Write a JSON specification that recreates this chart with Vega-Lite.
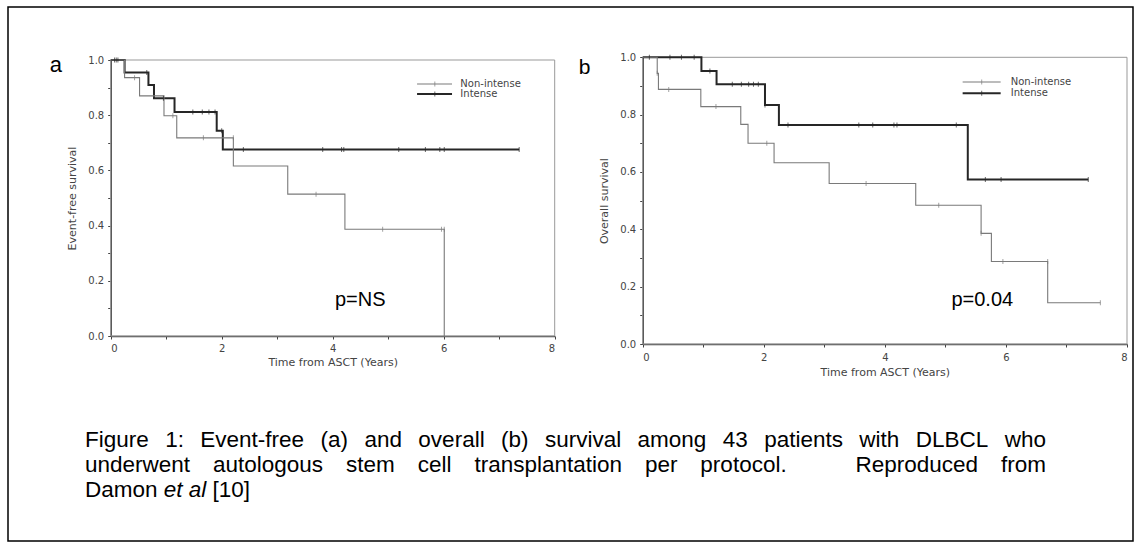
{
  "$schema": "https://vega.github.io/schema/vega-lite/v6.json",
  "width": 1125,
  "height": 534,
  "autosize": {"type": "none"},
  "padding": {"left": 8, "top": 7, "right": 9, "bottom": 7},
  "background": "white",
  "config": {
    "view": {"stroke": "#000", "strokeWidth": 1.5},
    "axis": {
      "grid": false,
      "domainColor": "#444",
      "domainWidth": 1.5,
      "tickColor": "#444",
      "tickSize": 3,
      "labelFont": "DejaVu Sans",
      "labelFontSize": 10,
      "labelColor": "#444",
      "titleFont": "DejaVu Sans",
      "titleFontSize": 11,
      "titleFontWeight": "normal",
      "titleColor": "#444"
    }
  },
  "datasets": {
    "a_curve": [
      {"t": 0, "s": 1, "group": "Intense"},
      {"t": 0.25, "s": 0.955, "group": "Intense"},
      {"t": 0.68, "s": 0.909, "group": "Intense"},
      {"t": 0.78, "s": 0.861, "group": "Intense"},
      {"t": 1.15, "s": 0.812, "group": "Intense"},
      {"t": 1.91, "s": 0.744, "group": "Intense"},
      {"t": 2.02, "s": 0.676, "group": "Intense"},
      {"t": 7.36, "s": 0.676, "group": "Intense"},
      {"t": 0, "s": 1, "group": "Non-intense"},
      {"t": 0.25, "s": 0.936, "group": "Non-intense"},
      {"t": 0.52, "s": 0.87, "group": "Non-intense"},
      {"t": 0.96, "s": 0.798, "group": "Non-intense"},
      {"t": 1.19, "s": 0.718, "group": "Non-intense"},
      {"t": 2.21, "s": 0.616, "group": "Non-intense"},
      {"t": 3.19, "s": 0.514, "group": "Non-intense"},
      {"t": 4.22, "s": 0.387, "group": "Non-intense"},
      {"t": 6.01, "s": 0, "group": "Non-intense"}
    ],
    "a_cens": [
      {"t": 0.07, "s": 1, "group": "Intense"},
      {"t": 0.1, "s": 1, "group": "Intense"},
      {"t": 0.13, "s": 1, "group": "Intense"},
      {"t": 0.65, "s": 0.955, "group": "Intense"},
      {"t": 0.95, "s": 0.861, "group": "Intense"},
      {"t": 1.48, "s": 0.812, "group": "Intense"},
      {"t": 1.65, "s": 0.812, "group": "Intense"},
      {"t": 1.77, "s": 0.812, "group": "Intense"},
      {"t": 1.88, "s": 0.812, "group": "Intense"},
      {"t": 2.0, "s": 0.744, "group": "Intense"},
      {"t": 2.39, "s": 0.676, "group": "Intense"},
      {"t": 3.82, "s": 0.676, "group": "Intense"},
      {"t": 4.16, "s": 0.676, "group": "Intense"},
      {"t": 4.2, "s": 0.676, "group": "Intense"},
      {"t": 5.19, "s": 0.676, "group": "Intense"},
      {"t": 5.67, "s": 0.676, "group": "Intense"},
      {"t": 5.93, "s": 0.676, "group": "Intense"},
      {"t": 6.01, "s": 0.676, "group": "Intense"},
      {"t": 7.36, "s": 0.676, "group": "Intense"},
      {"t": 0.43, "s": 0.936, "group": "Non-intense"},
      {"t": 1.12, "s": 0.798, "group": "Non-intense"},
      {"t": 1.67, "s": 0.718, "group": "Non-intense"},
      {"t": 2.21, "s": 0.718, "group": "Non-intense"},
      {"t": 3.7, "s": 0.514, "group": "Non-intense"},
      {"t": 4.9, "s": 0.387, "group": "Non-intense"},
      {"t": 5.96, "s": 0.387, "group": "Non-intense"},
      {"t": 6.01, "s": 0.387, "group": "Non-intense"}
    ],
    "b_curve": [
      {"t": 0, "s": 1, "group": "Intense"},
      {"t": 0.97, "s": 0.952, "group": "Intense"},
      {"t": 1.22, "s": 0.906, "group": "Intense"},
      {"t": 2.02, "s": 0.834, "group": "Intense"},
      {"t": 2.25, "s": 0.764, "group": "Intense"},
      {"t": 5.37, "s": 0.574, "group": "Intense"},
      {"t": 7.36, "s": 0.574, "group": "Intense"},
      {"t": 0, "s": 1, "group": "Non-intense"},
      {"t": 0.24, "s": 0.944, "group": "Non-intense"},
      {"t": 0.26, "s": 0.888, "group": "Non-intense"},
      {"t": 0.96, "s": 0.828, "group": "Non-intense"},
      {"t": 1.62, "s": 0.766, "group": "Non-intense"},
      {"t": 1.74, "s": 0.7, "group": "Non-intense"},
      {"t": 2.17, "s": 0.632, "group": "Non-intense"},
      {"t": 3.08, "s": 0.56, "group": "Non-intense"},
      {"t": 4.51, "s": 0.484, "group": "Non-intense"},
      {"t": 5.59, "s": 0.386, "group": "Non-intense"},
      {"t": 5.76, "s": 0.288, "group": "Non-intense"},
      {"t": 6.69, "s": 0.144, "group": "Non-intense"},
      {"t": 7.56, "s": 0.144, "group": "Non-intense"}
    ],
    "b_cens": [
      {"t": 0.11, "s": 1, "group": "Intense"},
      {"t": 0.45, "s": 1, "group": "Intense"},
      {"t": 0.64, "s": 1, "group": "Intense"},
      {"t": 0.85, "s": 1, "group": "Intense"},
      {"t": 1.11, "s": 0.952, "group": "Intense"},
      {"t": 1.48, "s": 0.906, "group": "Intense"},
      {"t": 1.63, "s": 0.906, "group": "Intense"},
      {"t": 1.75, "s": 0.906, "group": "Intense"},
      {"t": 1.83, "s": 0.906, "group": "Intense"},
      {"t": 1.91, "s": 0.906, "group": "Intense"},
      {"t": 2.02, "s": 0.834, "group": "Intense"},
      {"t": 2.4, "s": 0.764, "group": "Intense"},
      {"t": 3.57, "s": 0.764, "group": "Intense"},
      {"t": 3.8, "s": 0.764, "group": "Intense"},
      {"t": 4.15, "s": 0.764, "group": "Intense"},
      {"t": 4.2, "s": 0.764, "group": "Intense"},
      {"t": 5.18, "s": 0.764, "group": "Intense"},
      {"t": 5.66, "s": 0.574, "group": "Intense"},
      {"t": 5.92, "s": 0.574, "group": "Intense"},
      {"t": 7.36, "s": 0.574, "group": "Intense"},
      {"t": 0.24, "s": 0.944, "group": "Non-intense"},
      {"t": 0.43, "s": 0.888, "group": "Non-intense"},
      {"t": 1.21, "s": 0.828, "group": "Non-intense"},
      {"t": 2.05, "s": 0.7, "group": "Non-intense"},
      {"t": 3.69, "s": 0.56, "group": "Non-intense"},
      {"t": 4.89, "s": 0.484, "group": "Non-intense"},
      {"t": 5.59, "s": 0.386, "group": "Non-intense"},
      {"t": 5.95, "s": 0.288, "group": "Non-intense"},
      {"t": 6.69, "s": 0.288, "group": "Non-intense"},
      {"t": 7.56, "s": 0.144, "group": "Non-intense"}
    ],
    "frame": [{"t": 0, "t2": 8, "s": 0, "s2": 1}],
    "a_legend": [
      {"t": 5.52, "t2": 6.15, "tm": 5.84, "tx": 6.3, "s": 0.913, "group": "Non-intense"},
      {"t": 5.52, "t2": 6.15, "tm": 5.84, "tx": 6.3, "s": 0.877, "group": "Intense"}
    ],
    "b_legend": [
      {"t": 5.285, "t2": 5.913, "tm": 5.6, "tx": 6.08, "s": 0.914, "group": "Non-intense"},
      {"t": 5.285, "t2": 5.913, "tm": 5.6, "tx": 6.08, "s": 0.875, "group": "Intense"}
    ],
    "a_letter": [{"t": -0.986, "s": 0.957, "text": "a"}],
    "b_letter": [{"t": -0.96, "s": 0.941, "text": "b"}],
    "a_p": [{"t": 4.04, "s": 0.109, "text": "p=NS"}],
    "b_p": [{"t": 5.1, "s": 0.1325, "text": "p=0.04"}],
    "caption": [
      {"t": -0.4631, "s": -0.4022, "text": "Figure"},
      {"t": 0.9814, "s": -0.4022, "text": "1:"},
      {"t": 1.6151, "s": -0.4022, "text": "Event-free"},
      {"t": 3.7807, "s": -0.4022, "text": "(a)"},
      {"t": 4.5717, "s": -0.4022, "text": "and"},
      {"t": 5.5434, "s": -0.4022, "text": "overall"},
      {"t": 7.0328, "s": -0.4022, "text": "(b)"},
      {"t": 7.8238, "s": -0.4022, "text": "survival"},
      {"t": 9.4932, "s": -0.4022, "text": "among"},
      {"t": 11.0279, "s": -0.4022, "text": "43"},
      {"t": 11.7742, "s": -0.4022, "text": "patients"},
      {"t": 13.4895, "s": -0.4022, "text": "with"},
      {"t": 14.5059, "s": -0.4022, "text": "DLBCL"},
      {"t": 16.1081, "s": -0.4022, "text": "who"},
      {"t": -0.4631, "s": -0.4928, "text": "underwent"},
      {"t": 1.843, "s": -0.4928, "text": "autologous"},
      {"t": 4.2396, "s": -0.4928, "text": "stem"},
      {"t": 5.5315, "s": -0.4928, "text": "cell"},
      {"t": 6.553, "s": -0.4928, "text": "transplantation"},
      {"t": 9.6254, "s": -0.4928, "text": "per"},
      {"t": 10.6245, "s": -0.4928, "text": "protocol."},
      {"t": 13.4195, "s": -0.4928, "text": "Reproduced"},
      {"t": 16.041, "s": -0.4928, "text": "from"},
      {"t": -0.4631, "s": -0.5833, "text": "Damon"},
      {"t": 1.8355, "s": -0.5833, "text": "[10]"}
    ],
    "caption_it": [
      {"t": 0.9564, "s": -0.5833, "text": "et al"}
    ]
  },
  "layer": [
    {
      "encoding": {
        "x": {
          "field": "t", "type": "quantitative",
          "scale": {"domain": [0, 8], "range": [102.7, 546.7], "nice": false, "zero": false},
          "axis": {
            "orient": "bottom", "offset": -205, "values": [0, 1, 2, 3, 4, 5, 6, 7, 8],
            "labelExpr": "datum.value % 2 === 0 ? datum.label : ''",
            "title": "Time from ASCT (Years)", "titlePadding": 3, "labelPadding": 4
          }
        },
        "y": {
          "field": "s", "type": "quantitative",
          "scale": {"domain": [0, 1], "range": [329, 53], "nice": false, "zero": false},
          "axis": {
            "orient": "left", "offset": -102.7,
            "values": [0, 0.1, 0.2, 0.3, 0.4, 0.5, 0.6, 0.7, 0.8, 0.9, 1.0],
            "labelExpr": "round(datum.value * 10) % 2 === 0 ? format(datum.value, '.1f') : ''",
            "title": "Event-free survival", "labelPadding": 4, "titlePadding": 10
          }
        }
      },
      "layer": [
        {
          "data": {"name": "frame"},
          "mark": {"type": "rect", "filled": false, "stroke": "#999", "strokeWidth": 1},
          "encoding": {"x2": {"field": "t2"}, "y2": {"field": "s2"}}
        },
        {
          "data": {"name": "a_curve"},
          "mark": {"type": "line", "interpolate": "step-after"},
          "encoding": {
            "color": {"field": "group", "type": "nominal", "scale": {"domain": ["Non-intense", "Intense"], "range": ["#7a7a7a", "#262626"]}, "legend": null},
            "strokeWidth": {"field": "group", "type": "nominal", "scale": {"domain": ["Non-intense", "Intense"], "range": [1.1, 2]}, "legend": null}
          }
        },
        {
          "data": {"name": "a_cens"},
          "mark": {"type": "tick", "orient": "vertical", "size": 5, "thickness": 1},
          "encoding": {
            "color": {"field": "group", "type": "nominal", "legend": null}
          }
        },
        {
          "data": {"name": "a_legend"},
          "mark": {"type": "rule"},
          "encoding": {
            "x2": {"field": "t2"},
            "color": {"field": "group", "type": "nominal", "legend": null},
            "strokeWidth": {"field": "group", "type": "nominal", "legend": null}
          }
        },
        {
          "data": {"name": "a_legend"},
          "mark": {"type": "tick", "orient": "vertical", "size": 5, "thickness": 1},
          "encoding": {
            "x": {"field": "tm", "type": "quantitative"},
            "color": {"field": "group", "type": "nominal", "legend": null}
          }
        },
        {
          "data": {"name": "a_legend"},
          "mark": {"type": "text", "align": "left", "baseline": "middle", "font": "DejaVu Sans", "fontSize": 10, "color": "#444"},
          "encoding": {"x": {"field": "tx", "type": "quantitative"}, "text": {"field": "group"}}
        },
        {
          "data": {"name": "a_letter"},
          "mark": {"type": "text", "align": "center", "baseline": "alphabetic", "font": "Liberation Sans", "fontSize": 22, "color": "#000"},
          "encoding": {"text": {"field": "text"}}
        },
        {
          "data": {"name": "a_p"},
          "mark": {"type": "text", "align": "left", "baseline": "alphabetic", "font": "Liberation Sans", "fontSize": 20, "color": "#000"},
          "encoding": {"text": {"field": "text"}}
        },
        {
          "data": {"name": "caption"},
          "mark": {"type": "text", "align": "left", "baseline": "alphabetic", "font": "Liberation Sans", "fontSize": 22.5, "color": "#000"},
          "encoding": {"text": {"field": "text"}}
        },
        {
          "data": {"name": "caption_it"},
          "mark": {"type": "text", "align": "left", "baseline": "alphabetic", "font": "Liberation Sans", "fontSize": 22.5, "fontStyle": "italic", "color": "#000"},
          "encoding": {"text": {"field": "text"}}
        }
      ]
    },
    {
      "encoding": {
        "x": {
          "field": "t", "type": "quantitative",
          "scale": {"domain": [0, 8], "range": [634.7, 1119], "nice": false, "zero": false},
          "axis": {
            "orient": "bottom", "offset": -197, "values": [0, 1, 2, 3, 4, 5, 6, 7, 8],
            "labelExpr": "datum.value % 2 === 0 ? datum.label : ''",
            "title": "Time from ASCT (Years)", "titlePadding": 4, "labelPadding": 5
          }
        },
        "y": {
          "field": "s", "type": "quantitative",
          "scale": {"domain": [0, 1], "range": [337, 50.3], "nice": false, "zero": false},
          "axis": {
            "orient": "left", "offset": -634.7,
            "values": [0, 0.1, 0.2, 0.3, 0.4, 0.5, 0.6, 0.7, 0.8, 0.9, 1.0],
            "labelExpr": "round(datum.value * 10) % 2 === 0 ? format(datum.value, '.1f') : ''",
            "title": "Overall survival", "labelPadding": 4, "titlePadding": 10
          }
        }
      },
      "layer": [
        {
          "data": {"name": "frame"},
          "mark": {"type": "rect", "filled": false, "stroke": "#999", "strokeWidth": 1},
          "encoding": {"x2": {"field": "t2"}, "y2": {"field": "s2"}}
        },
        {
          "data": {"name": "b_curve"},
          "mark": {"type": "line", "interpolate": "step-after"},
          "encoding": {
            "color": {"field": "group", "type": "nominal", "legend": null},
            "strokeWidth": {"field": "group", "type": "nominal", "legend": null}
          }
        },
        {
          "data": {"name": "b_cens"},
          "mark": {"type": "tick", "orient": "vertical", "size": 5, "thickness": 1},
          "encoding": {
            "color": {"field": "group", "type": "nominal", "legend": null}
          }
        },
        {
          "data": {"name": "b_legend"},
          "mark": {"type": "rule"},
          "encoding": {
            "x2": {"field": "t2"},
            "color": {"field": "group", "type": "nominal", "legend": null},
            "strokeWidth": {"field": "group", "type": "nominal", "legend": null}
          }
        },
        {
          "data": {"name": "b_legend"},
          "mark": {"type": "tick", "orient": "vertical", "size": 5, "thickness": 1},
          "encoding": {
            "x": {"field": "tm", "type": "quantitative"},
            "color": {"field": "group", "type": "nominal", "legend": null}
          }
        },
        {
          "data": {"name": "b_legend"},
          "mark": {"type": "text", "align": "left", "baseline": "middle", "font": "DejaVu Sans", "fontSize": 10, "color": "#444"},
          "encoding": {"x": {"field": "tx", "type": "quantitative"}, "text": {"field": "group"}}
        },
        {
          "data": {"name": "b_letter"},
          "mark": {"type": "text", "align": "center", "baseline": "alphabetic", "font": "Liberation Sans", "fontSize": 21, "color": "#000"},
          "encoding": {"text": {"field": "text"}}
        },
        {
          "data": {"name": "b_p"},
          "mark": {"type": "text", "align": "left", "baseline": "alphabetic", "font": "Liberation Sans", "fontSize": 20, "color": "#000"},
          "encoding": {"text": {"field": "text"}}
        }
      ]
    }
  ],
  "resolve": {
    "scale": {"x": "independent", "y": "independent"},
    "axis": {"x": "independent", "y": "independent"}
  }
}
